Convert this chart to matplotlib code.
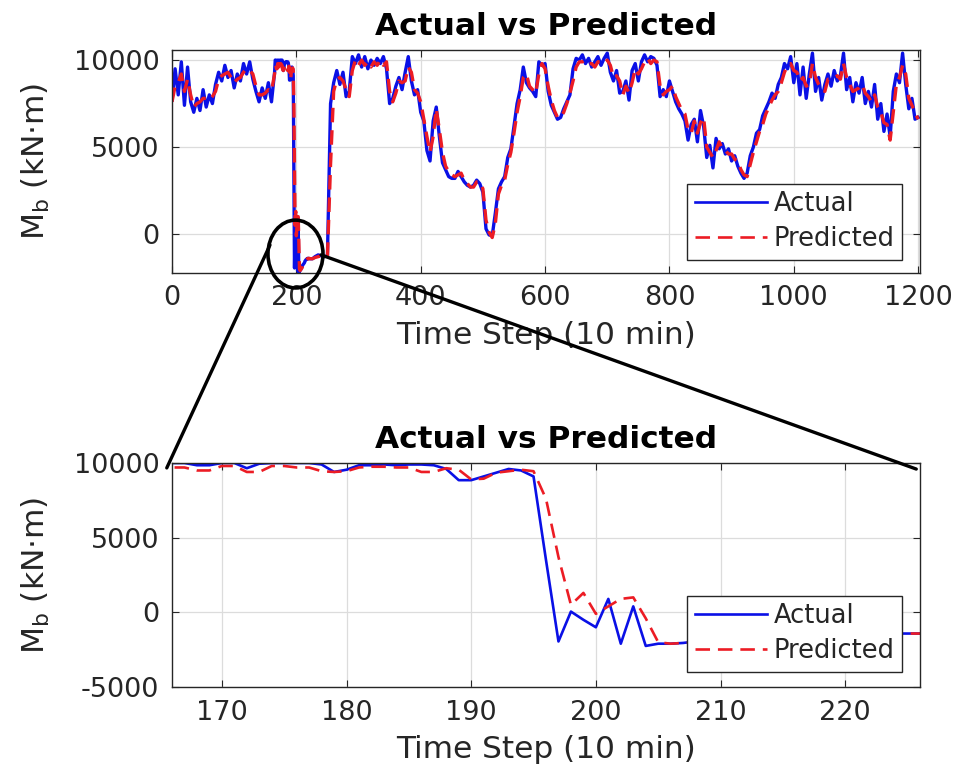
import numpy as np
import matplotlib
matplotlib.use("Agg")
import matplotlib.pyplot as plt
from matplotlib.patches import Ellipse, ConnectionPatch

# ---------------- data ----------------
# Segment A: coarse samples, t = 0..165 step 5
t_a = list(range(0, 166, 5))
actual_a = [7700, 9500, 8000, 9900, 7400, 9600, 7600, 7000, 7800, 7100,
            8300, 7300, 8000, 7500, 8600, 9300, 8800, 9700, 9000, 9400,
            8400, 9200, 8800, 9800, 9200, 9900, 8900, 8200, 7600, 8400,
            7800, 8700, 7600, 9300]
pred_a = [7600, 8500, 8700, 9200, 8200, 8900, 8000, 7300, 7500, 7600,
          7800, 7800, 7700, 7900, 8200, 8900, 9100, 9200, 9300, 9000,
          8700, 8900, 9000, 9300, 9500, 9400, 9200, 8500, 8000, 8000,
          8100, 8300, 8200, 9200]

# Segment B: every step, t = 166..226 (zoomed window)
t_b = list(range(166, 227))
actual_b = [10000, 10000, 9850, 9850, 10000, 10000, 9650, 9950, 10000, 10000,
            10000, 10000, 9900, 9400, 9550, 9850, 9850, 9900, 9850, 9900,
            9900, 9850, 9600, 8850, 8850, 9100, 9350, 9600, 9500, 9100,
            3500, -1950, 50, -500, -1000, 900, -2100, 400, -2250, -2100,
            -2100, -2050, -1950, -1900, -1800, -1750, -1700, -1650, -1550, -1500,
            -1450, -1450, -1400, -1400, -1400, -1420, -1420, -1420, -1420, -1420,
            -1420]
pred_b = [9700, 9700, 9500, 9500, 9800, 9800, 9400, 9400, 9800, 9800,
          9700, 9700, 9450, 9400, 9450, 9700, 9750, 9750, 9700, 9700,
          9400, 9400, 9650, 9550, 8900, 8950, 9350, 9450, 9550, 9450,
          7600, 3700, 500, 1300, -100, 400, 900, 1000, -400, -2000,
          -2100, -2050, -2000, -1950, -1850, -1800, -1750, -1700, -1600, -1550,
          -1500, -1450, -1450, -1400, -1400, -1400, -1420, -1420, -1420, -1420,
          -1420]

# Segment C: coarse samples, t = 230..1200 step 5
t_c = list(range(230, 1201, 5))
actual_c = [-1300, -1200, -1250, -1300, -1250, 7500, 8700, 9400, 8600, 9300,
            7900, 8200, 10200, 9800, 10300, 9600, 10200, 9500, 10000, 9700,
            10100, 9800, 10200, 9500, 7500, 7800, 8500, 9000, 8300, 9300,
            10200, 8800, 8000, 8300, 7000, 6500, 4800, 4200, 6500, 7300,
            5600, 4100, 3700, 3300, 3200, 3200, 3600, 3300, 3000, 2800,
            2700, 2800, 3100, 2900, 2400, 300, -50, -100, 1200, 2600,
            3000, 3300, 4400, 4900, 6200, 7500, 8300, 9600, 8700, 8400,
            8200, 7900, 9900, 9700, 9800, 8200, 7400, 7000, 6600, 6700,
            7200, 7600, 8000, 9500, 10100, 10000, 10300, 9800, 10100, 9600,
            9900, 10200, 9700, 10100, 10400, 9300, 8800, 9400, 8100, 8200,
            8800, 7700, 9400, 9800, 8800, 9900, 10300, 9900, 10200, 10100,
            9700, 7900, 8300, 7900, 8800, 8200, 7600, 7200, 6900, 6500,
            5400, 6300, 6600, 5300, 7100, 6200, 4400, 5100, 3800, 5500,
            4900, 5200, 4600, 4900, 4200, 4500, 3900, 3500, 3200, 3500,
            4500, 5000, 5800, 6000, 6800, 7200, 7600, 8100, 7800, 8600,
            9000, 9800, 9500, 10200, 8700, 9800, 8000, 9600, 7800, 9200,
            10400, 8200, 9000, 7700, 8600, 9200, 8500, 9400, 8800, 9100,
            10400, 8300, 9000, 7600, 8700, 8100, 9000, 7500, 8200, 7300,
            8600, 6600, 7500, 5900, 6900, 5600, 8200, 9200, 8700, 10400,
            8600, 7200, 7800, 6600, 6700]
pred_c = [-1350, -1300, -1250, -1350, -1300, 4000, 8200, 8900, 9000, 8800,
          8300, 7900, 9400, 10000, 9700, 10000, 9700, 9900, 9600, 9900,
          9700, 10000, 9700, 9900, 8200, 7600, 8100, 8800, 8700, 8800,
          9600, 9300, 8300, 8100, 7600, 6600, 5600, 4700, 5600, 7200,
          6000, 4700, 3900, 3600, 3400, 3300, 3400, 3500, 3100, 2900,
          2700, 2700, 3000, 3000, 2600, 800, 100, -200, 600, 2300,
          2800, 3100, 4000, 4700, 5800, 7000, 7900, 9000, 9200, 8500,
          8300, 8100, 9200, 9800, 9500, 8500, 7700, 7100, 6700, 6700,
          7000, 7500, 8100, 8800, 9600, 9900, 9900, 10000, 9800, 9800,
          9600, 9900, 9900, 9800, 10000, 9700, 9000, 9100, 8800, 8000,
          8500, 8100, 8700, 9500, 9200, 9500, 9900, 10100, 9800, 10000,
          9900, 8500, 8000, 8200, 8300, 8500, 7900, 7500, 7100, 6900,
          6000, 5800, 6500, 5800, 6400, 6700, 5000, 4700, 4400, 4800,
          5300, 4900, 4800, 4600, 4600, 4300, 4200, 3700, 3400, 3300,
          4000, 4700, 5300, 5900, 6300, 6900, 7300, 7700, 8000, 8200,
          8700, 9300, 9700, 9800, 9400, 9300, 8800, 9000, 8500, 8600,
          9800, 9000, 8600, 8300, 8200, 8900, 8900, 9000, 9100, 8900,
          9800, 9000, 8600, 8200, 8300, 8400, 8600, 8100, 7900, 7600,
          8000, 7300, 7000, 6400, 6300, 5400, 7000, 8600, 9000, 9700,
          9200, 7800, 7400, 7000, 6600]

title_text = "Actual vs Predicted"
xlabel_text = "Time Step (10 min)"
ylabel_text = r"M$_\mathrm{b}$ (kN$\cdot$m)"
legend_labels = ["Actual", "Predicted"]
top_xticks = [0, 200, 400, 600, 800, 1000, 1200]
top_yticks = [0, 5000, 10000]
bot_xticks = [170, 180, 190, 200, 210, 220]
bot_yticks = [-5000, 0, 5000, 10000]

t_all = np.array(t_a + t_b + t_c)
actual_all = np.array(actual_a + actual_b + actual_c)
pred_all = np.array(pred_a + pred_b + pred_c)

# ---------------- styling ----------------
plt.rcParams['font.family'] = ['DejaVu Sans']
plt.rcParams['mathtext.fontset'] = 'dejavusans'
plt.rcParams['axes.unicode_minus'] = False
BLUE = '#0a10e6'
RED = '#ec1c24'
AX_COL = '#262626'
TICK_FS = 19.5
LAB_FS = 22.5

fig = plt.figure(figsize=(9.62, 7.72), dpi=100)
ax1 = fig.add_axes([172/962, 1-273/772, 748/962, 223/772])
ax2 = fig.add_axes([172/962, 1-687/772, 748/962, 224/772])


def style(ax, xticks, yticks):
    ax.set_xticks(xticks)
    ax.set_yticks(yticks)
    ax.tick_params(direction='in', top=True, right=True, labelsize=TICK_FS,
                   colors=AX_COL, length=5, width=0.8, pad=9)
    for sp in ax.spines.values():
        sp.set_color(AX_COL)
        sp.set_linewidth(1.0)
    ax.grid(True, color='#dcdcdc', linewidth=0.9)
    ax.set_axisbelow(True)
    ax.set_xlabel(xlabel_text, fontsize=LAB_FS, color=AX_COL, labelpad=7)
    ax.set_ylabel(ylabel_text, fontsize=LAB_FS, color=AX_COL, labelpad=16)
    ax.set_title(title_text, fontsize=LAB_FS, fontweight='bold', color='black', pad=11)


for ax, lw in ((ax1, 2.4), (ax2, 1.9)):
    ax.plot(t_all, actual_all, color=BLUE, lw=lw, label=legend_labels[0])
    ax.plot(t_all, pred_all, color=RED, lw=lw, dashes=(5.5 * 1.9 / lw, 3.0 * 1.9 / lw),
            label=legend_labels[1])

ax1.set_xlim(0, 1203)
ax1.set_ylim(-2240, 10580)
ax2.set_xlim(166, 226)
ax2.set_ylim(-5000, 10000)
style(ax1, top_xticks, top_yticks)
style(ax2, bot_xticks, bot_yticks)

for ax, anchor in ((ax1, (0.976, 0.058)), (ax2, (0.976, 0.067))):
    leg = ax.legend(loc='lower right', bbox_to_anchor=anchor, fontsize=18.5,
                    handlelength=2.8, handletextpad=0.25, borderpad=0.3,
                    labelspacing=0.35, fancybox=False, framealpha=1,
                    borderaxespad=0)
    leg.get_frame().set_edgecolor(AX_COL)
    leg.get_frame().set_linewidth(1.0)
    for line in leg.get_lines():
        line.set_linewidth(1.9)
        if line.get_color() == RED:
            line.set_dashes((5.5, 3.0))
    for txt in leg.get_texts():
        txt.set_color(AX_COL)

# zoom annotation: ellipse and connector lines
ell = Ellipse((198.6, -1150), width=88.5, height=3900, transform=ax1.transData,
              fill=False, edgecolor='black', lw=2.6, clip_on=False, zorder=10)
ax1.add_patch(ell)
con1 = ConnectionPatch(xyA=(157.6, -630), coordsA=ax1.transData,
                       xyB=(-0.007, 0.978), coordsB=ax2.transAxes,
                       color='black', lw=2.4, zorder=10)
con2 = ConnectionPatch(xyA=(239.7, -1200), coordsA=ax1.transData,
                       xyB=(0.995, 0.973), coordsB=ax2.transAxes,
                       color='black', lw=2.4, zorder=10)
fig.add_artist(con1)
fig.add_artist(con2)

fig.savefig("out.png", dpi=100)
